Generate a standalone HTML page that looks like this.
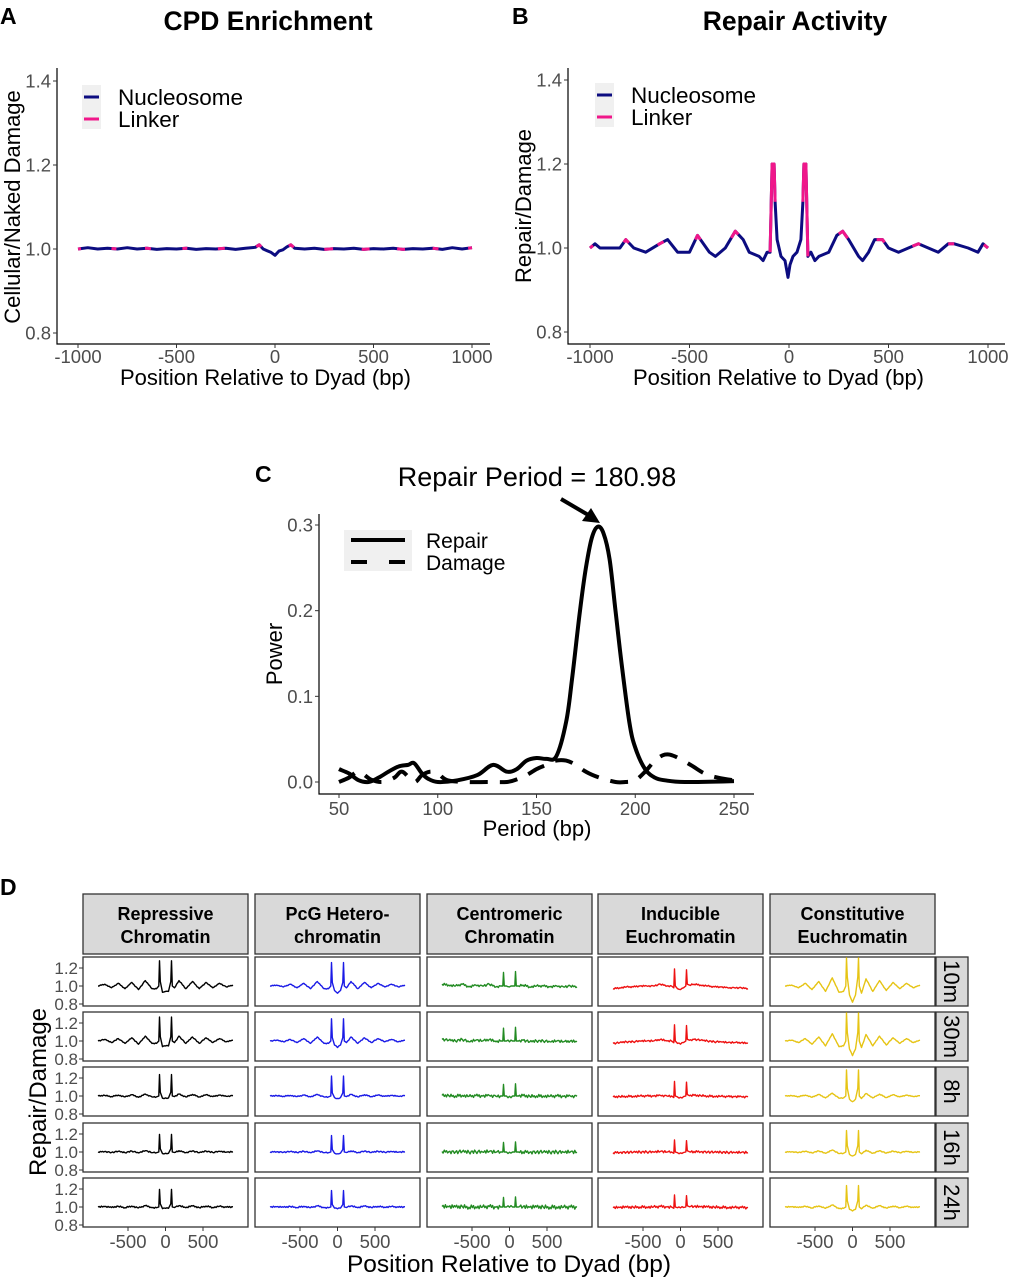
<!DOCTYPE html>
<html><head><meta charset="utf-8"><style>
html,body{margin:0;padding:0;background:#fff}
svg{display:block;font-family:"Liberation Sans",Arial,sans-serif}
</style></head><body>
<svg id="fig" width="1011" height="1280" viewBox="0 0 1011 1280" xmlns="http://www.w3.org/2000/svg">
<g id="A"></g>
<g id="B"></g>
<g id="C"></g>
<g id="D"></g>
</svg>
<script>
// ---------- data ----------
const aPos=[-1000,-950,-900,-850,-800,-750,-700,-650,-600,-550,-500,-450,-400,-350,-300,-250,-200,-150,-100,-80,-60,-40,-20,0,20,40,60,80,100,150,200,250,300,350,400,450,500,550,600,650,700,750,800,850,900,950,1000];
const aVal=[1.0,1.003,1.0,1.002,1.0,1.003,1.0,1.002,0.999,1.001,1.0,1.002,0.999,1.001,1.0,1.002,0.999,1.002,1.004,1.01,1.0,0.996,0.992,0.985,0.995,0.998,1.005,1.01,1.002,1.0,1.002,0.999,1.001,1.0,1.002,0.999,1.001,1.0,1.002,0.999,1.001,1.0,1.002,0.999,1.003,1.0,1.003];
const bPos=[-1000,-975,-950,-900,-850,-820,-780,-720,-650,-610,-560,-500,-460,-400,-370,-320,-270,-230,-200,-150,-130,-110,-95,-85,-75,-70,-60,-40,-20,-5,5,20,40,60,70,75,85,95,110,130,150,200,240,270,300,350,370,400,430,470,500,550,600,650,700,750,800,830,900,950,975,1000];
const bVal=[1.0,1.01,1.0,1.0,1.0,1.02,1.0,0.99,1.01,1.02,0.99,0.99,1.03,0.99,0.98,1.0,1.04,1.02,0.99,0.98,0.97,0.99,0.99,1.2,1.2,1.11,1.02,0.98,0.97,0.93,0.96,0.98,0.99,1.02,1.11,1.2,1.2,0.98,0.99,0.97,0.98,0.99,1.03,1.04,1.02,0.98,0.97,0.99,1.02,1.02,1.0,0.99,1.0,1.01,1.0,0.99,1.01,1.01,1.0,0.99,1.01,1.0];
const linkerRanges=[[-1000,-985],[-830,-805],[-660,-630],[-470,-445],[-290,-255],[-95,-70],[70,95],[250,295],[440,480],[620,660],[800,830],[980,1000]];
const cPer=[50,55,60,65,70,75,80,85,88,92,95,100,110,120,128,135,140,145,150,155,160,165,168,172,175,178,181,184,187,190,193,197,200,205,210,215,225,250];
const cRepair=[0.015,0.01,0.002,0.0,0.005,0.012,0.018,0.02,0.022,0.01,0.004,0.0,0.002,0.008,0.02,0.012,0.015,0.025,0.028,0.027,0.03,0.07,0.12,0.2,0.25,0.285,0.298,0.29,0.26,0.2,0.14,0.07,0.04,0.015,0.005,0.002,0.0,0.001];
const cDamagePer=[50,55,60,66,72,78,82,88,92,96,100,105,115,125,135,140,145,150,155,160,165,170,175,182,190,195,200,205,210,215,220,228,235,242,250];
const cDamage=[0.0,0.005,0.012,0.003,0.0,0.005,0.012,0.0,0.008,0.012,0.01,0.002,0.0,0.0,0.0,0.003,0.008,0.015,0.02,0.025,0.025,0.02,0.012,0.005,0.0,0.0,0.002,0.012,0.025,0.032,0.03,0.02,0.01,0.005,0.002];
const dCats=["Repressive\nChromatin","PcG Hetero-\nchromatin","Centromeric\nChromatin","Inducible\nEuchromatin","Constitutive\nEuchromatin"];
const dColors=["#000000","#1a1ae6","#228b22","#ee1111","#e6c414"];
const dRows=["10m","30m","8h","16h","24h"];
const dPos=[-900,-810,-720,-630,-540,-450,-360,-270,-180,-120,-90,-80,-70,-40,0,40,70,80,90,120,180,270,360,450,540,630,720,810,900];
const dRepressive=[1.0,1.02,0.98,1.03,0.97,1.04,0.96,1.06,0.97,0.97,1.0,1.28,1.05,0.93,0.94,0.94,1.05,1.28,1.0,0.98,1.06,0.97,1.05,0.97,1.04,0.98,1.03,0.99,1.01];
const dPcg=[1.0,1.01,0.99,1.02,0.98,1.03,0.97,1.05,0.97,0.97,1.0,1.26,1.04,0.95,0.92,0.95,1.04,1.26,1.0,0.98,1.05,0.97,1.04,0.98,1.03,0.99,1.02,0.99,1.01];
const dCentro=[1.02,1.01,1.0,1.02,0.99,1.01,1.0,1.02,0.99,1.0,1.0,1.15,1.0,1.0,0.99,1.0,1.0,1.16,1.0,1.0,1.01,0.99,1.0,1.0,0.99,1.0,0.99,1.0,0.99];
const dInduc=[0.97,0.98,0.99,0.99,1.0,1.0,1.0,1.02,1.0,1.0,0.98,1.19,1.0,0.97,0.96,0.98,1.0,1.18,1.02,1.01,1.02,1.01,1.0,0.99,0.99,0.98,0.98,0.98,0.97];
const dConst=[1.0,1.01,0.98,1.03,0.96,1.05,0.94,1.09,0.93,0.94,1.0,1.34,1.1,0.9,0.82,0.9,1.1,1.34,1.0,0.92,1.08,0.94,1.06,0.95,1.04,0.97,1.03,0.98,1.01];
const dProfiles=[dRepressive,dPcg,dCentro,dInduc,dConst];
const dOscScale=[1.0,0.9,0.35,0.25,0.25];
const dPeakScale=[1.0,0.95,0.85,0.7,0.7];
const dNoiseAmp=[0.004,0.004,0.012,0.008,0.003];
const dNoise=[0.5,-0.8,1,-0.3,0.7,-1,0.2,0.9,-0.6,0.4,-0.9,0.8,-0.2,0.6,-0.7,1,-0.4,0.3,-1,0.5];

// ---------- helpers ----------
const NS="http://www.w3.org/2000/svg";
function el(parent,tag,attrs,text){const e=document.createElementNS(NS,tag);for(const k in attrs)e.setAttribute(k,attrs[k]);if(text!==undefined)e.textContent=text;parent.appendChild(e);return e;}
function lin(d0,d1,r0,r1){return v=>r0+(v-d0)*(r1-r0)/(d1-d0);}
function pathFrom(xs,ys,fx,fy){return xs.map((x,i)=>(i?"L":"M")+fx(x).toFixed(1)+","+fy(ys[i]).toFixed(1)).join("");}
function smoothPath(xs,ys,fx,fy){
  const P=xs.map((x,i)=>[fx(x),fy(ys[i])]);
  let d="M"+P[0][0].toFixed(1)+","+P[0][1].toFixed(1);
  for(let i=0;i<P.length-1;i++){
    const p0=P[Math.max(0,i-1)],p1=P[i],p2=P[i+1],p3=P[Math.min(P.length-1,i+2)];
    const c1=[p1[0]+(p2[0]-p0[0])/6,p1[1]+(p2[1]-p0[1])/6],c2=[p2[0]-(p3[0]-p1[0])/6,p2[1]-(p3[1]-p1[1])/6];
    d+="C"+c1.map(v=>v.toFixed(1)).join(",")+" "+c2.map(v=>v.toFixed(1)).join(",")+" "+p2.map(v=>v.toFixed(1)).join(",");
  }
  return d;
}
const tickCol="#4d4d4d";

// ---------- panel A / B ----------
function lineChart(g,opt){
  const fx=lin(-1000,1000,opt.x0,opt.x1), fy=lin(1.0,1.2,opt.y10,opt.y12);
  let t=el(g,"text",{x:opt.letterX,y:24,"font-size":23,"font-weight":"bold"},opt.letter);
  
  t=el(g,"text",{x:opt.titleX,y:30,"font-size":26.5,"font-weight":"bold","text-anchor":"middle"},opt.title);
  
  const ax=el(g,"path",{d:`M${opt.axL},68V${opt.axB}H${opt.axR}`,fill:"none",stroke:"#000","stroke-width":1.2});
  
  [0.8,1.0,1.2,1.4].forEach(v=>{
    el(g,"line",{x1:opt.axL-4,x2:opt.axL,y1:fy(v),y2:fy(v),stroke:"#333"});
    const tl=el(g,"text",{x:opt.axL-6,y:fy(v)+6.5,"font-size":18.5,fill:tickCol,"text-anchor":"end"},v.toFixed(1));
    
  });
  [-1000,-500,0,500,1000].forEach(v=>{
    el(g,"line",{x1:fx(v),x2:fx(v),y1:opt.axB,y2:opt.axB+4,stroke:"#333"});
    const tl=el(g,"text",{x:fx(v),y:opt.axB+19,"font-size":18.5,fill:tickCol,"text-anchor":"middle"},String(v));
    
  });
  t=el(g,"text",{x:(opt.axL+opt.axR)/2-8,y:385,"font-size":22,"text-anchor":"middle"},"Position Relative to Dyad (bp)");
  
  const yc=(fy(0.8)+fy(1.4))/2;
  t=el(g,"text",{x:0,y:0,"font-size":22,"text-anchor":"middle",transform:`translate(${opt.axL-37},${yc}) rotate(-90)`},opt.ytitle);
  
  const p=el(g,"path",{d:pathFrom(opt.pos,opt.val,fx,fy),fill:"none",stroke:"#0c0c80","stroke-width":3,"stroke-linejoin":"round"});
  
  linkerRanges.forEach(r=>{
    const xs=[],ys=[];
    const interp=x=>{for(let i=1;i<opt.pos.length;i++){if(x<=opt.pos[i]){const a=opt.pos[i-1],b=opt.pos[i];return opt.val[i-1]+(opt.val[i]-opt.val[i-1])*(x-a)/(b-a);}}return opt.val[opt.val.length-1];};
    xs.push(r[0]);ys.push(interp(r[0]));
    opt.pos.forEach((x,i)=>{if(x>r[0]&&x<r[1]){xs.push(x);ys.push(opt.val[i]);}});
    xs.push(r[1]);ys.push(interp(r[1]));
    const lp=el(g,"path",{d:pathFrom(xs,ys,fx,fy),fill:"none",stroke:"#f0178a","stroke-width":3,"stroke-linejoin":"round"});
    
  });
  const lg=el(g,"g",{});
  el(lg,"rect",{x:opt.legX,y:opt.legY-12,width:19,height:44,fill:"#f0f0f0"});
  el(lg,"line",{x1:opt.legX+2,x2:opt.legX+17,y1:opt.legY,y2:opt.legY,stroke:"#0c0c80","stroke-width":3});
  el(lg,"line",{x1:opt.legX+2,x2:opt.legX+17,y1:opt.legY+22,y2:opt.legY+22,stroke:"#f0178a","stroke-width":3});
  let le=el(lg,"text",{x:opt.legX+36,y:opt.legY+8,"font-size":22.5},"Nucleosome");
  
  le=el(lg,"text",{x:opt.legX+36,y:opt.legY+30,"font-size":22.5},"Linker");
  
}
lineChart(document.getElementById("A"),{letter:"A",letterX:0,title:"CPD Enrichment",titleX:268,x0:78,x1:472,y10:249,y12:165,axL:57,axB:344,axR:490,ytitle:"Cellular/Naked Damage",pos:aPos,val:aVal,legX:82,legY:97});
lineChart(document.getElementById("B"),{letter:"B",letterX:512,title:"Repair Activity",titleX:795,x0:590,x1:988,y10:248,y12:164,axL:568,axB:344,axR:1005,ytitle:"Repair/Damage",pos:bPos,val:bVal,legX:595,legY:95});

// ---------- panel C ----------
(function(){
  const g=document.getElementById("C");
  const fx=lin(50,250,339,734), fy=lin(0,0.3,782,525);
  let t=el(g,"text",{x:255,y:482,"font-size":23,"font-weight":"bold"},"C");
  
  const ax=el(g,"path",{d:"M319,514V794H754",fill:"none",stroke:"#000","stroke-width":1.2});
  
  [0,0.1,0.2,0.3].forEach(v=>{
    el(g,"line",{x1:315,x2:319,y1:fy(v),y2:fy(v),stroke:"#333"});
    const tl=el(g,"text",{x:313,y:fy(v)+6.5,"font-size":18.5,fill:tickCol,"text-anchor":"end"},v.toFixed(1));
    
  });
  [50,100,150,200,250].forEach(v=>{
    el(g,"line",{x1:fx(v),x2:fx(v),y1:794,y2:798,stroke:"#333"});
    const tl=el(g,"text",{x:fx(v),y:815,"font-size":18.5,fill:tickCol,"text-anchor":"middle"},String(v));
    
  });
  t=el(g,"text",{x:537,y:836,"font-size":22,"text-anchor":"middle"},"Period (bp)");
  
  t=el(g,"text",{x:0,y:0,"font-size":22,"text-anchor":"middle",transform:"translate(282,654) rotate(-90)"},"Power");
  
  let p=el(g,"path",{d:smoothPath(cDamagePer,cDamage,fx,fy),fill:"none",stroke:"#000","stroke-width":4,"stroke-dasharray":"18,12"});
  
  p=el(g,"path",{d:smoothPath(cPer,cRepair,fx,fy),fill:"none",stroke:"#000","stroke-width":4,"stroke-linejoin":"round"});
  
  t=el(g,"text",{x:537,y:486,"font-size":27,"text-anchor":"middle"},"Repair Period = 180.98");
  
  const ar=el(g,"g",{});
  el(ar,"line",{x1:561,y1:499,x2:590,y2:516,stroke:"#000","stroke-width":4});
  el(ar,"polygon",{points:"600,523 582,521 591,508",fill:"#000"});
  const lg=el(g,"g",{});
  el(lg,"rect",{x:344,y:530,width:68,height:41,fill:"#f0f0f0"});
  el(lg,"line",{x1:351,x2:405,y1:540,y2:540,stroke:"#000","stroke-width":4});
  el(lg,"line",{x1:351,x2:405,y1:562,y2:562,stroke:"#000","stroke-width":4,"stroke-dasharray":"16,22"});
  let le=el(lg,"text",{x:426,y:548,"font-size":21},"Repair");
  
  le=el(lg,"text",{x:426,y:570,"font-size":21},"Damage");
  
})();

// ---------- panel D ----------
(function(){
  const g=document.getElementById("D");
  const colL=[83,255,427,598,770], rowT=[957,1012,1067,1123,1178], W=165, H=49;
  let t=el(g,"text",{x:0,y:895,"font-size":23,"font-weight":"bold"},"D");
  
  dCats.forEach((c,ci)=>{
    const s=el(g,"rect",{x:colL[ci],y:894,width:W,height:60,fill:"#d9d9d9",stroke:"#333","stroke-width":1.3});
    
    c.split("\n").forEach((ln,li)=>{
      const st=el(g,"text",{x:colL[ci]+W/2,y:920+li*23,"font-size":18,"font-weight":"bold","text-anchor":"middle"},ln);
      
    });
  });
  dRows.forEach((r,ri)=>{
    const top=rowT[ri];
    const fy=v=>top+29-(v-1)*90;
    const rs=el(g,"rect",{x:936,y:top,width:32,height:H,fill:"#d9d9d9",stroke:"#333","stroke-width":1.3});
    
    const rt=el(g,"text",{x:0,y:0,"font-size":22,"text-anchor":"middle",transform:`translate(944,${top+H/2}) rotate(90)`},r);
    
    [0.8,1.0,1.2].forEach(v=>{
      el(g,"line",{x1:79,x2:83,y1:fy(v),y2:fy(v),stroke:"#333"});
      const tl=el(g,"text",{x:78,y:fy(v)+6,"font-size":17,fill:tickCol,"text-anchor":"end"},v.toFixed(1));
      
    });
    dCats.forEach((c,ci)=>{
      const left=colL[ci];
      const fx=lin(-500,500,left+W/2-37.5,left+W/2+37.5);
      const box=el(g,"rect",{x:left,y:top,width:W,height:H,fill:"#fff",stroke:"#333","stroke-width":1.3});
      
      const prof=dProfiles[ci];
      const xs=[],ys=[];
      for(let i=0;i<dPos.length;i++){
        const isPeak=Math.abs(dPos[i])>=70&&Math.abs(dPos[i])<=90;
        const sc=isPeak?dPeakScale[ri]:dOscScale[ri];
        const v=1+(prof[i]-1)*sc;
        xs.push(dPos[i]);ys.push(v);
        if(i<dPos.length-1&&dPos[i+1]-dPos[i]>=40){
          const n=Math.floor((dPos[i+1]-dPos[i])/15);
          const vn=1+(prof[i+1]-1)*((Math.abs(dPos[i+1])>=70&&Math.abs(dPos[i+1])<=90)?dPeakScale[ri]:dOscScale[ri]);
          for(let k=1;k<n;k++){
            const f=k/n;
            xs.push(dPos[i]+(dPos[i+1]-dPos[i])*f);
            ys.push(v+(vn-v)*f+dNoise[(i*7+k+ri*3)%dNoise.length]*dNoiseAmp[ci]*(1+ri*0.2));
          }
        }
      }
      const p=el(g,"path",{d:pathFrom(xs,ys,fx,v=>Math.max(top+1,Math.min(top+H-1,fy(v)))),fill:"none",stroke:dColors[ci],"stroke-width":1.4,"stroke-linejoin":"round"});
      
      if(ri===4){
        [-500,0,500].forEach(v=>{
          el(g,"line",{x1:fx(v),x2:fx(v),y1:top+H,y2:top+H+4,stroke:"#333"});
          const tl=el(g,"text",{x:fx(v),y:1248,"font-size":18.5,fill:tickCol,"text-anchor":"middle"},String(v));
          
        });
      }
    });
  });
  t=el(g,"text",{x:509,y:1272,"font-size":24.5,"text-anchor":"middle"},"Position Relative to Dyad (bp)");
  
  t=el(g,"text",{x:0,y:0,"font-size":24,"text-anchor":"middle",transform:"translate(46,1092) rotate(-90)"},"Repair/Damage");
  
})();
</script>
</body></html>
